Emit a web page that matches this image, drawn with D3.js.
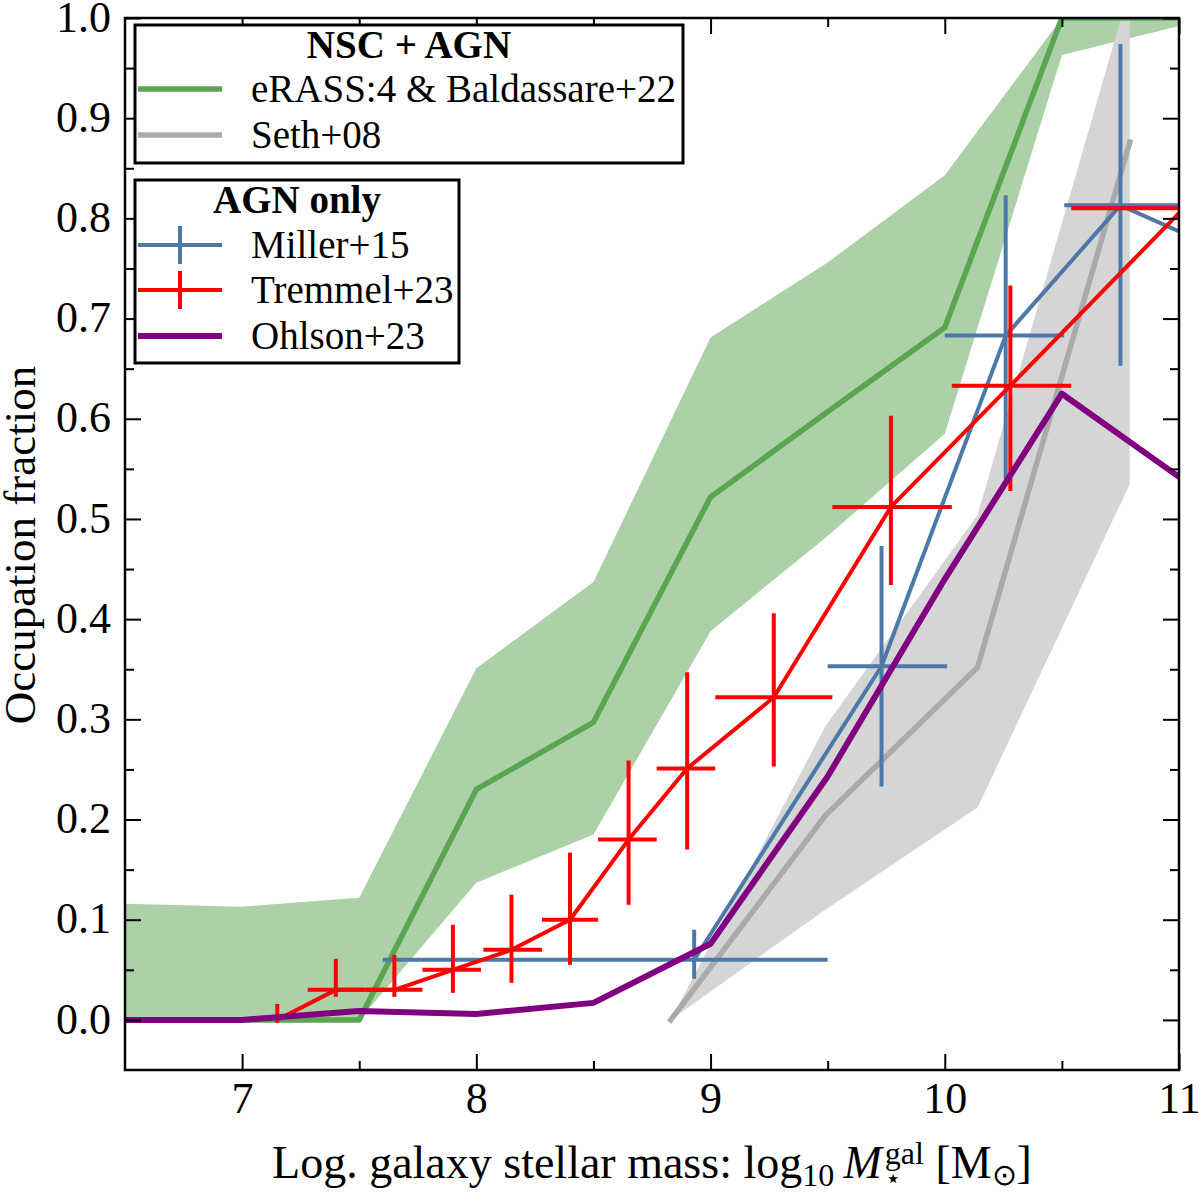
<!DOCTYPE html>
<html>
<head>
<meta charset="utf-8">
<script src="https://cdn.jsdelivr.net/npm/d3@7"></script>
<style>
  body { margin: 0; background: #fff; }
  svg text { font-family: "Liberation Serif", "Times New Roman", serif; fill: #000; }
</style>
</head>
<body>
<svg id="fig" width="1200" height="1193"></svg>
<script>
// ---- data ----
const xTicks = [7, 8, 9, 10, 11]
const xMinor = [7.5, 8.5, 9.5, 10.5]
const yTicks = [0.0, 0.1, 0.2, 0.3, 0.4, 0.5, 0.6, 0.7, 0.8, 0.9, 1.0]
const yMinor = [0.05, 0.15, 0.25, 0.35, 0.45, 0.55, 0.65, 0.75, 0.85, 0.95]

// eRASS:4 & Baldassare+22 (NSC + AGN), median and band
const greenX   = [6.5, 7.0, 7.5, 8.0, 8.5, 9.0, 9.5, 10.0, 10.5, 11.0]
const greenMid = [0.0, 0.0, 0.0, 0.23, 0.297, 0.522, 0.607, 0.691, 1.0, 1.0]
const greenLo  = [0.0, 0.0, 0.0, 0.137, 0.185, 0.388, 0.483, 0.585, 0.963, 0.992]
const greenHi  = [0.116, 0.113, 0.122, 0.351, 0.437, 0.681, 0.756, 0.843, 1.0, 1.0]

// Seth+08
const sethX   = [8.83, 9.49, 10.14, 10.79]
const sethMid = [0.0, 0.204, 0.352, 0.876]
const sethLo  = [0.0, 0.11, 0.212, 0.535]
const sethHi  = [0.0, 0.293, 0.504, 1.03]

// Miller+15 (last point lies past the right edge)
const millerX   = [8.93, 9.73, 10.26, 10.75, 11.26]
const millerY   = [0.06, 0.353, 0.683, 0.813, 0.76]
const millerXlo = [7.60, 9.50, 10.0, 10.51, null]
const millerXhi = [9.50, 10.01, 10.51, 11.0, null]
const millerYlo = [0.041, 0.233, 0.54, 0.653, null]
const millerYhi = [0.090, 0.473, 0.823, 0.974, null]

// Tremmel+23
const tremX   = [7.15, 7.40, 7.65, 7.90, 8.15, 8.40, 8.65, 8.90, 9.27, 9.77, 10.28, 11.02]
const tremY   = [0.0, 0.03, 0.03, 0.05, 0.07, 0.10, 0.18, 0.251, 0.322, 0.512, 0.633, 0.81]
const tremXlo = [7.15, 7.28, 7.53, 7.77, 8.03, 8.28, 8.52, 8.77, 9.02, 9.52, 10.03, 10.54]
const tremXhi = [7.15, 7.52, 7.77, 8.02, 8.28, 8.52, 8.77, 9.02, 9.52, 10.03, 10.54, 11.5]
const tremYlo = [-0.003, 0.023, 0.023, 0.027, 0.037, 0.055, 0.115, 0.17, 0.253, 0.434, 0.528, 0.81]
const tremYhi = [0.016, 0.061, 0.065, 0.095, 0.125, 0.167, 0.259, 0.347, 0.406, 0.603, 0.733, 0.81]

// Ohlson+23
const ohlX = [6.5, 7.0, 7.5, 8.0, 8.5, 9.0, 9.5, 10.0, 10.5, 11.0]
const ohlY = [0.0, 0.0, 0.009, 0.006, 0.017, 0.076, 0.243, 0.44, 0.625, 0.542]

// ---- layout ----
const pL = 125, pR = 1179, pT = 18, pB = 1070

const xScale = d3.scaleLinear().domain([6.5, 11]).range([pL, pR])
const yScale = d3.scaleLinear().domain([-0.05, 1.0]).range([pB, pT])

const svg = d3.select("#fig")

svg.append("defs").append("clipPath").attr("id", "plotclip")
    .append("rect").attr("x", pL).attr("y", pT)
    .attr("width", pR - pL).attr("height", pB - pT)

const plot = svg.append("g").attr("clip-path", "url(#plotclip)")

function band(X, lo, hi, fill) {
    let area = d3.area()
        .x((d, i) => xScale(X[i]))
        .y0((d, i) => yScale(lo[i]))
        .y1((d, i) => yScale(hi[i]))
    plot.append("path").datum(X).attr("d", area).attr("fill", fill).attr("stroke", "none")
}

function curve(X, Y, color, width) {
    let line = d3.line().x((d, i) => xScale(X[i])).y((d, i) => yScale(Y[i]))
    plot.append("path").datum(X).attr("d", line)
        .attr("fill", "none").attr("stroke", color).attr("stroke-width", width)
        .attr("stroke-linejoin", "round").attr("stroke-linecap", "square")
}

function errorbars(X, Y, Xlo, Xhi, Ylo, Yhi, color, width) {
    let g = plot.append("g").attr("stroke", color).attr("stroke-width", width)
    X.forEach((x, i) => {
        if (Xlo[i] !== null && Xlo[i] !== Xhi[i]) {
            g.append("line")
                .attr("x1", xScale(Xlo[i])).attr("x2", xScale(Xhi[i]))
                .attr("y1", yScale(Y[i])).attr("y2", yScale(Y[i]))
        }
        if (Ylo[i] !== null && Ylo[i] !== Yhi[i]) {
            g.append("line")
                .attr("x1", xScale(x)).attr("x2", xScale(x))
                .attr("y1", yScale(Ylo[i])).attr("y2", yScale(Yhi[i]))
        }
    })
}

// bands
band(greenX, greenLo, greenHi, "#acd0a7")
band(sethX, sethLo, sethHi, "#d5d5d5")
// medians
curve(greenX, greenMid, "#5aa550", 5.5)
curve(sethX, sethMid, "#aaaaaa", 5.5)
// AGN only
curve(millerX, millerY, "#4c79a8", 4)
errorbars(millerX, millerY, millerXlo, millerXhi, millerYlo, millerYhi, "#4c79a8", 4)
curve(tremX, tremY, "#ff0000", 4)
errorbars(tremX, tremY, tremXlo, tremXhi, tremYlo, tremYhi, "#ff0000", 4)
curve(ohlX, ohlY, "#800080", 6)

// ---- axes: ticks inward on all four sides ----
function styleAxis(g, fontSize) {
    g.select(".domain").remove()
    g.selectAll(".tick line").attr("stroke", "#000").attr("stroke-width", 2)
    g.selectAll(".tick text").style("font-size", fontSize + "px")
}

svg.append("g").attr("transform", `translate(0,${pB})`)
    .call(d3.axisBottom(xScale).tickValues(xTicks).tickSizeInner(-16).tickSizeOuter(0)
        .tickPadding(12).tickFormat(d3.format("d")))
    .call(g => styleAxis(g, 44))
svg.append("g").attr("transform", `translate(0,${pB})`)
    .call(d3.axisBottom(xScale).tickValues(xMinor).tickSizeInner(-9).tickSizeOuter(0).tickFormat(""))
    .call(g => styleAxis(g, 44))
svg.append("g").attr("transform", `translate(0,${pT})`)
    .call(d3.axisTop(xScale).tickValues(xTicks).tickSizeInner(-16).tickSizeOuter(0).tickFormat(""))
    .call(g => styleAxis(g, 44))
svg.append("g").attr("transform", `translate(0,${pT})`)
    .call(d3.axisTop(xScale).tickValues(xMinor).tickSizeInner(-9).tickSizeOuter(0).tickFormat(""))
    .call(g => styleAxis(g, 44))

svg.append("g").attr("transform", `translate(${pL},0)`)
    .call(d3.axisLeft(yScale).tickValues(yTicks).tickSizeInner(-16).tickSizeOuter(0)
        .tickPadding(14).tickFormat(d3.format(".1f")))
    .call(g => styleAxis(g, 44))
    .call(g => g.selectAll(".tick text").attr("dy", "0.3em"))
svg.append("g").attr("transform", `translate(${pL},0)`)
    .call(d3.axisLeft(yScale).tickValues(yMinor).tickSizeInner(-9).tickSizeOuter(0).tickFormat(""))
    .call(g => styleAxis(g, 44))
svg.append("g").attr("transform", `translate(${pR},0)`)
    .call(d3.axisRight(yScale).tickValues(yTicks).tickSizeInner(-16).tickSizeOuter(0).tickFormat(""))
    .call(g => styleAxis(g, 44))
svg.append("g").attr("transform", `translate(${pR},0)`)
    .call(d3.axisRight(yScale).tickValues(yMinor).tickSizeInner(-9).tickSizeOuter(0).tickFormat(""))
    .call(g => styleAxis(g, 44))

// frame
svg.append("rect").attr("x", pL).attr("y", pT)
    .attr("width", pR - pL).attr("height", pB - pT)
    .attr("fill", "none").attr("stroke", "#000").attr("stroke-width", 2.5)

// ---- axis labels ----
svg.append("text")
    .attr("transform", `translate(35,${(pT + pB) / 2 + 1}) rotate(-90)`)
    .attr("text-anchor", "middle").style("font-size", "45px")
    .text("Occupation fraction")

const xl = svg.append("text").attr("x", (pL + pR) / 2).attr("y", 1178)
    .attr("text-anchor", "middle").style("font-size", "46px")
xl.append("tspan").text("Log. galaxy stellar mass: log")
xl.append("tspan").attr("dy", 8).style("font-size", "32px").text("10")
xl.append("tspan").attr("dy", -8).text("\u2009")
xl.append("tspan").style("font-style", "italic").text("M")
const star = xl.append("tspan").attr("dx", 3).attr("dy", 9).style("font-size", "26px").text("\u22C6")
const gal = xl.append("tspan").attr("dy", -23).style("font-size", "32px").text("gal")
xl.append("tspan").attr("dy", 14).text(" [M")
xl.append("tspan").attr("dy", 7).style("font-size", "30px").text("\u2299")
xl.append("tspan").attr("dy", -7).text("]")
gal.attr("dx", -star.node().getComputedTextLength())

// ---- legends ----
function legendBox(x, y, w, h, title) {
    svg.append("rect").attr("x", x).attr("y", y).attr("width", w).attr("height", h)
        .attr("fill", "#fff").attr("stroke", "#000").attr("stroke-width", 3)
    svg.append("text").attr("x", x + w / 2).attr("y", y + 33)
        .attr("text-anchor", "middle").style("font-size", "39px").style("font-weight", "bold")
        .text(title)
}
function legendLine(y, color, width, label, errbar) {
    svg.append("line").attr("x1", 138).attr("x2", 222).attr("y1", y).attr("y2", y)
        .attr("stroke", color).attr("stroke-width", width)
    if (errbar) {
        svg.append("line").attr("x1", 180).attr("x2", 180).attr("y1", y - 19).attr("y2", y + 19)
            .attr("stroke", color).attr("stroke-width", width)
    }
    svg.append("text").attr("x", 251).attr("y", y + 13).style("font-size", "39px").text(label)
}

legendBox(135, 25, 548, 138, "NSC + AGN")
legendLine(89, "#5aa550", 5.5, "eRASS:4 & Baldassare+22", false)
legendLine(135, "#aaaaaa", 5.5, "Seth+08", false)

legendBox(135, 180, 324, 183, "AGN only")
legendLine(245, "#4c79a8", 4, "Miller+15", true)
legendLine(290, "#ff0000", 4, "Tremmel+23", true)
legendLine(336, "#800080", 6, "Ohlson+23", false)
</script>
</body>
</html>
